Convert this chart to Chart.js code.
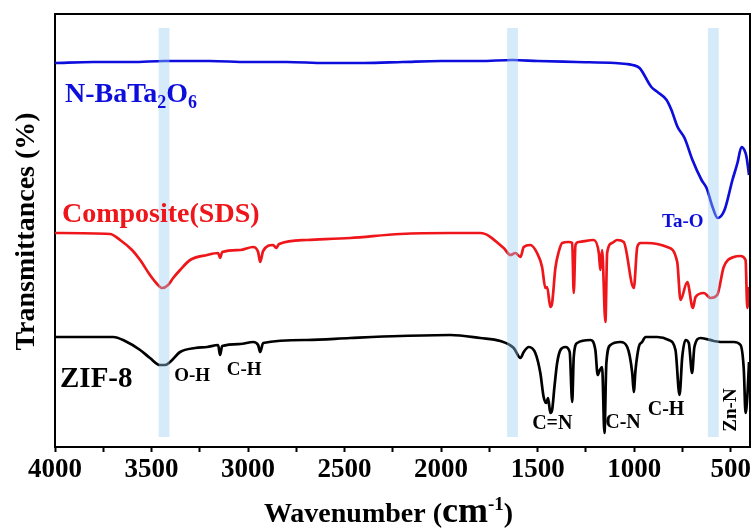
<!DOCTYPE html>
<html>
<head>
<meta charset="utf-8">
<script src="https://cdn.jsdelivr.net/npm/chart.js@4.4.1/dist/chart.umd.min.js"></script>
<style>
  html, body { margin: 0; padding: 0; background: #fff; }
  #wrap { width: 755px; height: 531px; }
</style>
</head>
<body>
<div id="wrap"><canvas id="ftir" width="755" height="531"></canvas></div>
<script>
// FTIR spectra, wavenumber (cm-1) vs. transmittance (offset, a.u.)
const blueWn = [4000, 3800, 3600, 3435, 3200, 3000, 2800, 2600, 2400, 2200, 2000, 1800, 1630, 1500, 1300, 1100, 1040,
  1008, 972, 911, 879, 832, 807, 775, 739, 698, 651, 625, 594, 568, 532, 491, 465, 444, 429, 418, 405];
const blueT = [384, 385, 385, 386, 386, 385, 385, 384, 384, 385, 386, 386, 387, 386, 385, 384, 383,
  382, 379, 360, 355, 347, 337, 320, 309, 287, 267, 259, 240, 229, 237, 267, 284, 300, 297, 290, 272];

const redWn = [4000, 3715, 3663, 3601, 3559, 3508, 3471, 3445, 3414, 3388, 3352, 3300, 3212, 3155, 3145, 3134,
  3041, 2974, 2948, 2937, 2922, 2870, 2854, 2839, 2694, 2471, 2212, 1952, 1797, 1676, 1641, 1615, 1589, 1572,
  1538, 1503, 1477, 1460, 1451, 1434, 1425, 1408, 1391, 1373, 1339, 1321, 1313, 1304, 1287, 1209, 1183, 1175,
  1166, 1149, 1140, 1114, 1088, 1054, 1002, 984, 967, 933, 829, 777, 760, 725, 696, 682, 639, 604, 570, 536,
  484, 449, 423, 414, 405];
const redT = [214, 213, 207, 197, 187, 172, 163, 159, 162, 169, 177, 187, 192, 194, 189, 195,
  197, 200, 195, 185, 196, 202, 199, 203, 207, 209, 213, 214, 214, 199, 192, 194, 190, 200,
  202, 194, 180, 159, 160, 140, 144, 179, 195, 204, 205, 204, 154, 202, 205, 207, 194, 177,
  197, 125, 194, 204, 207, 205, 159, 200, 204, 204, 200, 185, 147, 165, 139, 150, 154, 149, 152, 180,
  190, 191, 187, 139, 160];

const blackWn = [4000, 3699, 3637, 3559, 3508, 3456, 3430, 3404, 3352, 3274, 3212, 3155, 3145, 3134,
  3041, 2974, 2948, 2937, 2922, 2694, 2471, 2212, 1952, 1797, 1693, 1624, 1589, 1572, 1546, 1512, 1486,
  1469, 1455, 1446, 1434, 1425, 1413, 1399, 1382, 1356, 1334, 1321, 1313, 1295, 1227, 1201, 1189, 1178,
  1166, 1154, 1144, 1123, 1071, 1036, 1010, 1002, 993, 976, 959, 941, 881, 821, 786, 765, 751, 734,
  717, 700, 688, 656, 587, 553, 484, 449, 432, 423, 414, 405];
const blackT = [110, 110, 106, 97, 89, 82, 82, 85, 95, 99, 100, 102, 92, 101,
  103, 105, 102, 95, 104, 107, 109, 111, 112, 109, 106, 99, 89, 95, 100, 94, 74,
  50, 44, 49, 34, 37, 60, 84, 97, 100, 95, 45, 90, 104, 107, 97, 72, 77,
  80, 14, 84, 102, 105, 100, 74, 55, 77, 100, 105, 110, 110, 107, 97, 52, 90, 107,
  104, 74, 100, 109, 106, 105, 105, 102, 77, 34, 50, 85];

// highlighted absorption bands (cm-1)
const bandCenters = [3435, 1630, 590];
const bandWidth = 56;

const xTicks = [4000, 3500, 3000, 2500, 2000, 1500, 1000, 500];

const SERIF = '"Times New Roman", "Liberation Serif", serif';
const BLUE = 'rgb(14, 14, 220)';
const RED = 'rgb(238, 22, 26)';
const BLACK = '#000';

const toPoints = (wn, t) => wn.map((w, i) => ({ x: w, y: t[i] }));

// text labels placed in data coordinates
const peakLabels = [
  { text: 'O-H', x: 3290, y: 71, size: 19, color: BLACK },
  { text: 'C-H', x: 3020, y: 77, size: 19, color: BLACK },
  { text: 'C=N', x: 1424, y: 23, size: 20, color: BLACK },
  { text: 'C-N', x: 1058, y: 24, size: 20, color: BLACK },
  { text: 'C-H', x: 835, y: 37, size: 20, color: BLACK },
  { text: 'Ta-O', x: 748, y: 225, size: 19, color: BLUE },
  { text: 'Zn-N', x: 498, y: 37, size: 19, color: BLACK, rotate: true }
];

const bandPlugin = {
  id: 'bands',
  afterDatasetsDraw(chart) {
    const { ctx, chartArea, scales } = chart;
    ctx.save();
    ctx.fillStyle = 'rgba(150, 205, 242, 0.4)';
    bandCenters.forEach(c => {
      const x1 = scales.x.getPixelForValue(c + bandWidth / 2);
      const x2 = scales.x.getPixelForValue(c - bandWidth / 2);
      ctx.fillRect(x1, chartArea.top + 14, x2 - x1, chartArea.bottom - chartArea.top - 24);
    });
    ctx.restore();
  }
};

const textPlugin = {
  id: 'texts',
  afterDraw(chart) {
    const { ctx, chartArea, scales } = chart;
    ctx.save();

    // frame top and right
    ctx.strokeStyle = '#000';
    ctx.lineWidth = 2;
    ctx.beginPath();
    ctx.moveTo(chartArea.left, chartArea.top);
    ctx.lineTo(chartArea.right, chartArea.top);
    ctx.lineTo(chartArea.right, chartArea.bottom);
    ctx.stroke();

    // series names
    ctx.textBaseline = 'alphabetic';
    ctx.textAlign = 'left';
    let x = chartArea.left + 10;
    const parts = [['N-BaTa', 28, 0], ['2', 18, 6], ['O', 28, 0], ['6', 18, 6]];
    ctx.fillStyle = BLUE;
    parts.forEach(([s, size, dy]) => {
      ctx.font = `bold ${size}px ${SERIF}`;
      ctx.fillText(s, x, 102 + dy);
      x += ctx.measureText(s).width;
    });
    ctx.fillStyle = RED;
    ctx.font = `bold 28px ${SERIF}`;
    ctx.fillText('Composite(SDS)', chartArea.left + 7, 222);
    ctx.fillStyle = BLACK;
    ctx.font = `bold 29px ${SERIF}`;
    ctx.fillText('ZIF-8', chartArea.left + 5, 387);

    // peak assignments
    ctx.textAlign = 'center';
    ctx.textBaseline = 'middle';
    peakLabels.forEach(l => {
      const px = scales.x.getPixelForValue(l.x);
      const py = scales.y.getPixelForValue(l.y);
      ctx.fillStyle = l.color;
      ctx.font = `bold ${l.size}px ${SERIF}`;
      if (l.rotate) {
        ctx.save();
        ctx.translate(px, py);
        ctx.rotate(-Math.PI / 2);
        ctx.fillText(l.text, 0, 0);
        ctx.restore();
      } else {
        ctx.fillText(l.text, px, py);
      }
    });

    // axis titles
    ctx.fillStyle = BLACK;
    ctx.save();
    ctx.translate(27, (chartArea.top + chartArea.bottom) / 2 + 1);
    ctx.rotate(-Math.PI / 2);
    ctx.font = `bold 28px ${SERIF}`;
    ctx.fillText('Transmittances (%)', 0, 0);
    ctx.restore();

    const tParts = [['Wavenumber (', 28, 0], ['cm', 36, 0], ['-1', 19, -12], [')', 28, 0]];
    let total = 0;
    tParts.forEach(([s, size]) => { ctx.font = `bold ${size}px ${SERIF}`; total += ctx.measureText(s).width; });
    let tx = (chartArea.left + chartArea.right) / 2 - 14 - total / 2;
    ctx.textAlign = 'left';
    ctx.textBaseline = 'alphabetic';
    tParts.forEach(([s, size, dy]) => {
      ctx.font = `bold ${size}px ${SERIF}`;
      ctx.fillText(s, tx, 522 + dy);
      tx += ctx.measureText(s).width;
    });
    ctx.restore();
  }
};

const lineStyle = color => ({
  borderColor: color,
  borderWidth: 2.7,
  pointRadius: 0,
  fill: false,
  cubicInterpolationMode: 'monotone'
});

new Chart(document.getElementById('ftir'), {
  type: 'line',
  data: {
    datasets: [
      { label: 'N-BaTa2O6', data: toPoints(blueWn, blueT), ...lineStyle(BLUE) },
      { label: 'Composite(SDS)', data: toPoints(redWn, redT), ...lineStyle(RED) },
      { label: 'ZIF-8', data: toPoints(blackWn, blackT), ...lineStyle(BLACK) }
    ]
  },
  options: {
    responsive: false,
    animation: false,
    devicePixelRatio: 1,
    layout: { padding: { top: 14, right: 5, left: 0, bottom: 0 } },
    plugins: { legend: { display: false }, tooltip: { enabled: false } },
    scales: {
      x: {
        type: 'linear',
        reverse: true,
        min: 400,
        max: 4000,
        afterFit(s) { s.height = 84; },
        afterBuildTicks(s) {
          const ticks = [];
          for (let v = 4000; v >= 500; v -= 250) ticks.push({ value: v });
          s.ticks = ticks;
        },
        ticks: {
          autoSkip: false,
          maxRotation: 0,
          padding: 2,
          color: '#000',
          font: { family: SERIF, size: 27, weight: 'bold' },
          callback: v => (xTicks.includes(v) ? String(v) : '')
        },
        grid: {
          display: true,
          drawOnChartArea: false,
          drawTicks: true,
          tickLength: 5,
          tickWidth: 2,
          tickColor: '#000'
        },
        border: { display: true, color: '#000', width: 2 }
      },
      y: {
        min: 0,
        max: 433,
        afterFit(s) { s.width = 55; },
        ticks: { display: false },
        grid: { display: false },
        border: { display: true, color: '#000', width: 2 }
      }
    }
  },
  plugins: [bandPlugin, textPlugin]
});
</script>
</body>
</html>
